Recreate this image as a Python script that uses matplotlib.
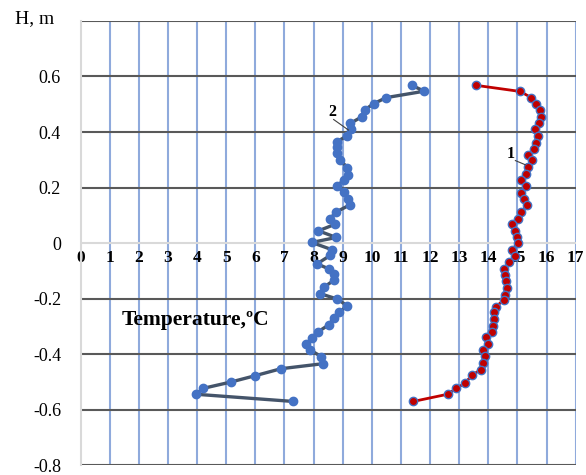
import matplotlib
matplotlib.use("Agg")
import matplotlib.pyplot as plt

# curve 1 (red) - temperature profile
H1 = [0.568, 0.546, 0.524, 0.50, 0.479, 0.455, 0.431, 0.41, 0.386, 0.362,
      0.338, 0.318, 0.298, 0.274, 0.25, 0.226, 0.205, 0.181, 0.16, 0.136,
      0.112, 0.088, 0.068, 0.044, 0.022, 0.0, -0.024, -0.048, -0.069, -0.093,
      -0.114, -0.138, -0.162, -0.186, -0.206, -0.23, -0.25, -0.274, -0.298, -0.319,
      -0.34, -0.364, -0.385, -0.408, -0.432, -0.456, -0.476, -0.504, -0.524, -0.545,
      -0.571]
T1 = [13.59, 15.10, 15.47, 15.64, 15.76, 15.81, 15.73, 15.62, 15.70, 15.65,
      15.56, 15.35, 15.50, 15.35, 15.31, 15.13, 15.31, 15.13, 15.22, 15.33,
      15.13, 15.01, 14.82, 14.90, 14.99, 15.01, 14.82, 14.90, 14.72, 14.55,
      14.59, 14.62, 14.65, 14.59, 14.53, 14.25, 14.21, 14.19, 14.15, 14.13,
      13.93, 13.98, 13.82, 13.90, 13.82, 13.75, 13.44, 13.21, 12.90, 12.60,
      11.42]

# curve 2 (blue)
H2 = [0.568, 0.547, 0.524, 0.502, 0.479, 0.455, 0.431, 0.411, 0.386, 0.365,
      0.345, 0.325, 0.30, 0.272, 0.246, 0.226, 0.207, 0.183, 0.160, 0.137,
      0.112, 0.088, 0.068, 0.044, 0.020, 0.002, -0.024, -0.045, -0.075, -0.093,
      -0.111, -0.135, -0.158, -0.182, -0.202, -0.226, -0.25, -0.271, -0.295, -0.319,
      -0.343, -0.364, -0.385, -0.409, -0.435, -0.453, -0.478, -0.501, -0.524, -0.545,
      -0.571]
T2 = [11.38, 11.80, 10.50, 10.06, 9.75, 9.66, 9.26, 9.29, 9.15, 8.80,
      8.82, 8.82, 8.92, 9.15, 9.20, 9.03, 8.82, 9.03, 9.20, 9.24,
      8.78, 8.57, 8.75, 8.17, 8.78, 7.94, 8.63, 8.57, 8.12, 8.52,
      8.69, 8.69, 8.37, 8.21, 8.82, 9.15, 8.89, 8.69, 8.52, 8.17,
      7.94, 7.75, 7.89, 8.25, 8.31, 6.88, 6.0, 5.16, 4.2, 3.97,
      7.31]

x_ticks = list(range(0, 18))
y_ticks = [-0.8, -0.6, -0.4, -0.2, 0, 0.2, 0.4, 0.6]
y_labels = ["-0.8", "-0.6", "-0.4", "-0.2", "0", "0.2", "0.4", "0.6"]

plt.rcParams['font.family'] = ['Liberation Serif', 'DejaVu Serif']

fig = plt.figure(figsize=(5.86, 4.75), dpi=100)
ax = fig.add_axes([0.1374, 0.021, 0.845, 0.9348])
ax.set_xlim(0, 17)
ax.set_ylim(-0.8, 0.8)

# grid
for x in x_ticks[1:]:
    ax.axvline(x, color='#8faadc', lw=1.5, zorder=1)
for y in y_ticks + [0.8]:
    if y == 0:
        ax.axhline(y, color='#d9d9d9', lw=1.5, zorder=1)
    else:
        ax.axhline(y, color='#595959', lw=1.5, zorder=1)

for s in ['top', 'right']:
    ax.spines[s].set_visible(False)
ax.spines['left'].set_color('#d9d9d9')
ax.spines['left'].set_linewidth(1.5)
ax.spines['bottom'].set_position(('data', 0))
ax.spines['bottom'].set_visible(False)

ax.set_xticks(x_ticks)
ax.set_xticklabels([str(v) for v in x_ticks], fontweight='bold', fontsize=12.5)
ax.set_yticks(y_ticks)
ax.set_yticklabels(y_labels, fontsize=13)
ax.tick_params(axis='x', length=0, pad=5)
ax.tick_params(axis='y', length=0, pad=14)

ax.plot(T2, H2, color='#44546a', lw=2.4, marker='o', ms=6,
        mfc='#4472c4', mec='#4472c4', zorder=3)
ax.plot(T1, H1, color='#c00000', lw=2, marker='o', ms=6,
        mfc='#c00000', mec='#4472c4', mew=1.0, zorder=3)

# curve labels
ax.text(8.64, 0.471, "2", fontsize=11.5, fontweight='bold', ha='center', va='center')
ax.plot([8.69, 9.2], [0.445, 0.407], color='#404040', lw=0.8, zorder=4)
ax.text(14.78, 0.321, "1", fontsize=11.5, fontweight='bold', ha='center', va='center')
ax.plot([14.93, 15.27], [0.297, 0.282], color='#404040', lw=0.8, zorder=4)

ax.text(3.93, -0.279, "Temperature,ºC", fontsize=15.5, fontweight='bold',
        ha='center', va='center')
fig.text(0.0256, 0.96, "H, m", fontsize=14, ha='left', va='center')

fig.savefig("out.png", dpi=100)
